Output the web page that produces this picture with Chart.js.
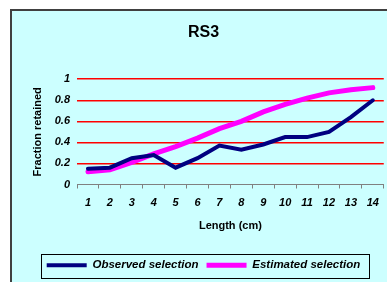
<!DOCTYPE html>
<html lang="en">
<head>
  <meta charset="UTF-8">
  <title>RS3</title>
  <script src="https://cdn.jsdelivr.net/npm/chart.js"></script>
  <style>
    body { margin: 0; background: #fff; }
    #wrap { width: 387px; height: 282px; }
  </style>
</head>
<body>
  <div id="wrap"><canvas id="rs3Chart" width="387" height="282"></canvas></div>

  <script>
    // Values
    const lengths = ['1', '2', '3', '4', '5', '6', '7', '8', '9', '10', '11', '12', '13', '14'];
    const observed = [0.15, 0.16, 0.25, 0.28, 0.16, 0.25, 0.37, 0.33, 0.38, 0.45, 0.45, 0.50, 0.64, 0.80];
    const estimated = [0.12, 0.14, 0.21, 0.29, 0.36, 0.44, 0.53, 0.60, 0.69, 0.76, 0.82, 0.87, 0.90, 0.92];
    const yStep = 0.2;

    const boldItalic = { family: 'Liberation Sans, Arial, sans-serif', size: 11, weight: 'bold', style: 'italic' };

    // cyan panel with dark frame, plus the boxed legend
    const frame = {
      id: 'frame',
      beforeDraw(chart) {
        const ctx = chart.ctx;
        ctx.save();
        ctx.fillStyle = '#ffffff';
        ctx.fillRect(0, 0, chart.width, chart.height);
        ctx.fillStyle = '#ccffff';
        ctx.fillRect(11, 10, 400, 300);
        ctx.strokeStyle = '#404040';
        ctx.lineWidth = 2;
        ctx.strokeRect(11, 10, 400, 300);
        ctx.restore();
      },
      afterDraw(chart) {
        const boxes = chart.legend.legendHitBoxes;
        if (!boxes || !boxes.length) return;
        const left = Math.min(...boxes.map(b => b.left));
        const right = Math.max(...boxes.map(b => b.left + b.width));
        const top = Math.min(...boxes.map(b => b.top));
        const bottom = Math.max(...boxes.map(b => b.top + b.height));
        const ctx = chart.ctx;
        ctx.save();
        ctx.strokeStyle = '#000';
        ctx.lineWidth = 1;
        ctx.strokeRect(Math.round(left - 6) + 0.5, Math.round(top - 6) + 0.5,
          Math.round(right - left + 14), Math.round(bottom - top + 12));
        ctx.restore();
      }
    };

    new Chart(document.getElementById('rs3Chart'), {
      type: 'line',
      data: {
        labels: lengths,
        datasets: [{
          label: 'Observed selection',
          data: observed,
          borderColor: '#000080',
          backgroundColor: '#000080',
          borderWidth: 4,
          borderCapStyle: 'round',
          pointRadius: 0,
          tension: 0
        }, {
          label: 'Estimated selection',
          data: estimated,
          borderColor: '#ff00ff',
          backgroundColor: '#ff00ff',
          borderWidth: 5,
          borderCapStyle: 'round',
          pointRadius: 0,
          tension: 0
        }]
      },
      options: {
        responsive: false,
        animation: false,
        layout: { padding: { top: 23, right: 2, bottom: 1, left: 22 } },
        plugins: {
          title: {
            display: true,
            text: 'RS3',
            color: '#000',
            font: { family: 'Liberation Sans, Arial, sans-serif', size: 16, weight: 'bold' },
            padding: { top: 0, bottom: 37 }
          },
          legend: {
            position: 'bottom',
            labels: {
              color: '#000',
              font: { ...boldItalic, size: 11.5 },
              usePointStyle: true,
              pointStyle: 'line',
              pointStyleWidth: 40,
              padding: 8
            }
          },
          tooltip: { enabled: false }
        },
        scales: {
          x: {
            offset: true,
            grid: { offset: true, drawOnChartArea: false, drawTicks: true, tickLength: 4, color: '#808080' },
            border: { color: '#808080', width: 1 },
            ticks: { color: '#000', font: boldItalic, padding: 8, maxRotation: 0 },
            title: {
              display: true,
              text: 'Length (cm)',
              color: '#000',
              font: { family: 'Liberation Sans, Arial, sans-serif', size: 11, weight: 'bold' },
              padding: { top: 0, bottom: 19 }
            },
            afterFit(scale) { scale.height = 67; }
          },
          y: {
            min: 0,
            max: 1,
            grid: {
              drawTicks: false,
              lineWidth: 1.5,
              color: ctx => (ctx.tick && ctx.tick.value === 0 ? 'rgba(0,0,0,0)' : '#ff0000')
            },
            border: { display: false },
            ticks: {
              stepSize: yStep,
              color: '#000',
              font: boldItalic,
              padding: 7,
              callback: v => String(Math.round(v * 10) / 10)
            },
            title: {
              display: true,
              text: 'Fraction retained',
              color: '#000',
              font: { family: 'Liberation Sans, Arial, sans-serif', size: 11, weight: 'bold' },
              padding: { top: 9, bottom: 0 }
            },
            afterFit(scale) { scale.width = 55; }
          }
        }
      },
      plugins: [frame]
    });
  </script>
</body>
</html>
